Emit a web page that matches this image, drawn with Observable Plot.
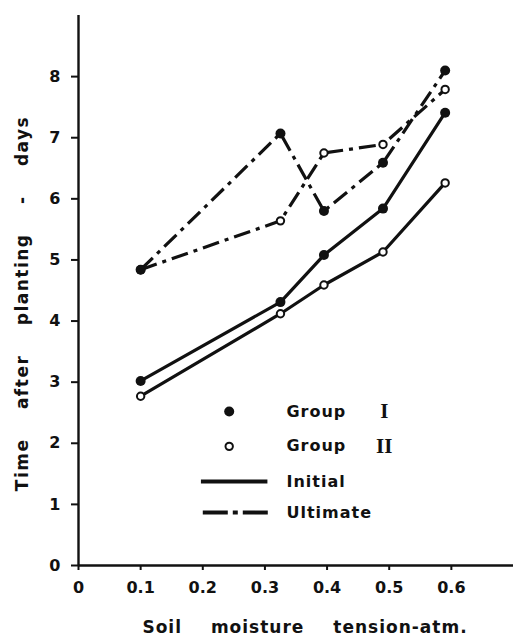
<!DOCTYPE html>
<html>
<head>
<meta charset="utf-8">
<script src="https://cdn.jsdelivr.net/npm/d3@7"></script>
<script src="https://cdn.jsdelivr.net/npm/@observablehq/plot@0.6"></script>
<style>
  html, body { margin: 0; padding: 0; background: #fff; }
</style>
</head>
<body>
<div id="chart"></div>
<script>
// ---- data ----
const tension = [0.1, 0.325, 0.395, 0.49, 0.59];
const g1Initial = [3.02, 4.31, 5.08, 5.84, 7.41];
const g2Initial = [2.77, 4.12, 4.59, 5.13, 6.26];
const g1Ultimate = [4.84, 7.07, 5.80, 6.59, 8.10];
const g2Ultimate = [4.84, 5.64, 6.75, 6.89, 7.79];
const xTicks = [0, 0.1, 0.2, 0.3, 0.4, 0.5, 0.6];
const yTicks = [0, 1, 2, 3, 4, 5, 6, 7, 8];
const xLabel = "Soil moisture tension-atm.";
const yLabel = "Time after planting - days";
const legendGroups = ["Group", "Group"];
const legendNumerals = ["I", "II"];
const legendLines = ["Initial", "Ultimate"];

const series = [
  {group: "I", phase: "Initial", values: g1Initial},
  {group: "II", phase: "Initial", values: g2Initial},
  {group: "I", phase: "Ultimate", values: g1Ultimate},
  {group: "II", phase: "Ultimate", values: g2Ultimate}
];
const rows = series.flatMap(s => s.values.map((v, i) => ({group: s.group, phase: s.phase, x: tension[i], y: v})));
const dash = "17,6,4,6";
const ink = "#111";

// legend layout (data units inside the frame)
const lgDotX = 0.2425, lgTextX = 0.3346, lgNumX = 0.492;
const lgLineX1 = 0.197, lgLineX2 = 0.304;
const lgRows = [2.52, 1.95, 1.375, 0.867];

const marks = [
  Plot.axisX({ticks: xTicks, tickFormat: d => d === 0 ? "0" : d.toFixed(1), tickSize: 5, tickPadding: 11, label: null, stroke: ink, strokeWidth: 2}),
  Plot.axisY({ticks: yTicks, tickFormat: d => String(d), tickSize: 7, tickPadding: 11, label: null, stroke: ink, strokeWidth: 2}),
  Plot.ruleX([0], {stroke: ink, strokeWidth: 2.4}),
  Plot.ruleY([0], {stroke: ink, strokeWidth: 2.4}),
  ...series.map(s => Plot.line(rows.filter(r => r.group === s.group && r.phase === s.phase), {
    x: "x", y: "y", stroke: ink, strokeWidth: 3.2,
    strokeDasharray: s.phase === "Ultimate" ? dash : null, strokeLinecap: "butt", strokeLinejoin: "round"
  })),
  Plot.dot(rows.filter(r => r.group === "II"), {x: "x", y: "y", r: 3.7, fill: "#fff", stroke: ink, strokeWidth: 2}),
  Plot.dot(rows.filter(r => r.group === "I"), {x: "x", y: "y", r: 5, fill: ink, stroke: "none"}),
  // legend
  Plot.dot([0], {x: () => lgDotX, y: () => lgRows[0], r: 5, fill: ink}),
  Plot.dot([0], {x: () => lgDotX, y: () => lgRows[1], r: 3.7, fill: "#fff", stroke: ink, strokeWidth: 2}),
  Plot.text(legendGroups, {x: () => lgTextX, y: (d, i) => lgRows[i], text: d => d, textAnchor: "start", fill: ink}),
  Plot.text(legendNumerals, {x: () => lgNumX, y: (d, i) => lgRows[i], text: d => d, textAnchor: "middle", fill: ink, fontFamily: "Liberation Serif", fontSize: 21}),
  Plot.link([legendLines[0]], {x1: () => lgLineX1, x2: () => lgLineX2, y1: () => lgRows[2], y2: () => lgRows[2],
    stroke: ink, strokeWidth: 4}),
  Plot.link([legendLines[1]], {x1: () => lgLineX1 + 0.003, x2: () => lgLineX2 + 0.003, y1: () => lgRows[3], y2: () => lgRows[3],
    stroke: ink, strokeWidth: 4, strokeDasharray: "25,5,5,5"}),
  Plot.text(legendLines, {x: () => lgTextX, y: (d, i) => lgRows[i + 2], text: d => d, textAnchor: "start", fill: ink}),
  // axis labels
  Plot.text([xLabel], {frameAnchor: "bottom", textAnchor: "middle", dy: 67, dx: 9, text: d => d, fill: ink, fontSize: 17}),
  Plot.text([yLabel], {frameAnchor: "left", textAnchor: "middle", dx: -56, dy: 13, rotate: -90, text: d => d, fill: ink, fontSize: 17})
];

const chart = Plot.plot({
  width: 513,
  height: 640,
  marginLeft: 78,
  marginRight: 0,
  marginTop: 15,
  marginBottom: 75,
  x: {domain: [0, 0.7]},
  y: {domain: [0, 9]},
  style: {fontFamily: "DejaVu Sans", fontWeight: "bold", fontSize: "16px", background: "#fff", color: ink},
  marks
});

const svg = d3.select(chart);
svg.selectAll("text").filter(function() { return this.textContent === xLabel; }).style("word-spacing", "22px").style("letter-spacing", "1px");
svg.selectAll("text").filter(function() { return this.textContent === yLabel; }).style("word-spacing", "22px").style("letter-spacing", "1.5px");
svg.selectAll("text").filter(function() { return legendGroups.includes(this.textContent) || legendLines.includes(this.textContent); }).style("letter-spacing", "1px");
document.getElementById("chart").appendChild(chart);
</script>
</body>
</html>
